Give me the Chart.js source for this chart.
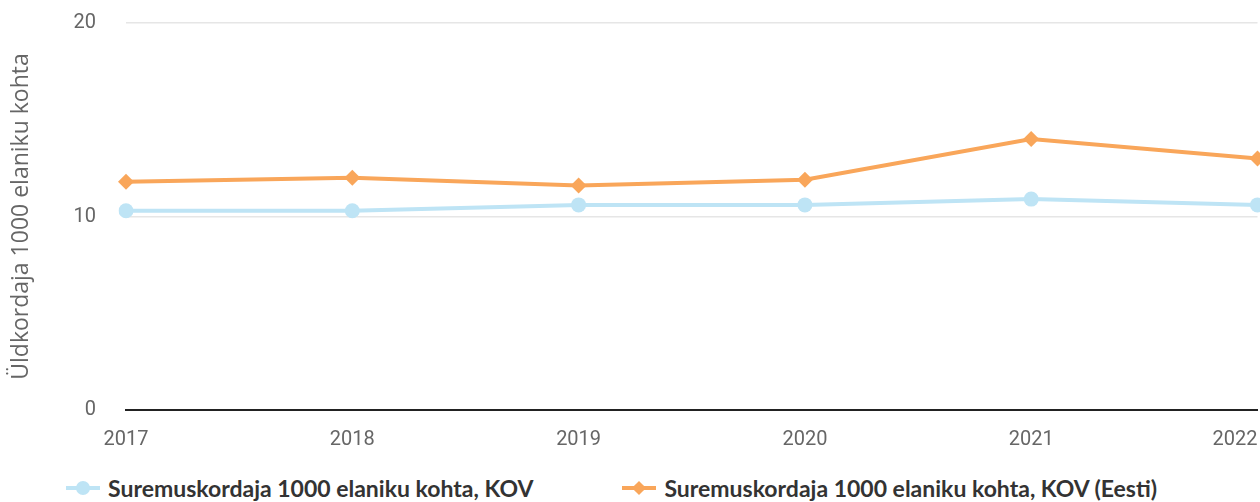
<!DOCTYPE html>
<html>
<head>
<meta charset="utf-8">
<script src="https://cdn.jsdelivr.net/npm/chart.js@4/dist/chart.umd.min.js"></script>
<style>
  html, body { margin: 0; padding: 0; background: #fff; }
  #wrap { position: relative; width: 1260px; height: 502px; overflow: hidden; }
  #box { position: absolute; left: 0; top: 0; width: 1298px; height: 460px; }
  #legend { position: absolute; left: 66px; top: 475px; display: flex; gap: 89px;
            font-family: Lato, sans-serif; font-weight: 700; font-size: 23px; color: #333; line-height: 26px; }
  .item { display: flex; align-items: center; white-space: nowrap; }
  .mark { position: relative; width: 34px; height: 26px; margin-right: 8px; }
  .mark .ln { position: absolute; left: 0; right: 0; top: 11px; height: 4px; }
  .mark .dot { position: absolute; left: 10px; top: 6px; width: 14px; height: 14px; border-radius: 50%; }
  .mark .dia { position: absolute; left: 12px; top: 8px; width: 10px; height: 10px; transform: rotate(45deg); }
</style>
</head>
<body>
<div id="wrap">
  <div id="box"><canvas id="chart" width="1298" height="460"></canvas></div>
  <div id="legend"></div>
</div>
<script>
var years = ["2017", "2018", "2019", "2020", "2021", "2022"];
var kovValues = [10.3, 10.3, 10.6, 10.6, 10.9, 10.6];
var eestiValues = [11.8, 12.0, 11.6, 11.9, 14.0, 13.0];
var seriesNames = ["Suremuskordaja 1000 elaniku kohta, KOV", "Suremuskordaja 1000 elaniku kohta, KOV (Eesti)"];
var yTitle = "Üldkordaja 1000 elaniku kohta";

var blue = "#bee4f5";
var orange = "#f9a65a";
var tickFont = { family: "Roboto", size: 20 };

// keep the last year label inside the plot edge
var lastLabelInside = {
    id: "lastLabelInside",
    beforeDraw: function (chart) {
        var items = chart.scales.x.getLabelItems();
        items[items.length - 1].options.textAlign = "right";
    }
};

var ctx = document.getElementById("chart").getContext("2d");
var myChart = new Chart(ctx, {
    type: "line",
    data: {
        labels: years,
        datasets: [{
            label: seriesNames[0],
            data: kovValues,
            borderColor: blue,
            backgroundColor: blue,
            borderWidth: 4,
            pointStyle: "circle",
            pointRadius: 7.5,
            pointBorderWidth: 0,
            tension: 0
        }, {
            label: seriesNames[1],
            data: eestiValues,
            borderColor: orange,
            backgroundColor: orange,
            borderWidth: 4,
            pointStyle: "rectRot",
            pointRadius: 8,
            pointBorderWidth: 0,
            tension: 0
        }]
    },
    options: {
        responsive: false,
        animation: false,
        layout: { padding: 0 },
        plugins: {
            legend: { display: false },
            tooltip: { enabled: false }
        },
        scales: {
            x: {
                offset: false,
                grid: { display: false, drawTicks: false },
                border: { display: true, color: "#222", width: 2 },
                ticks: { color: "#666", padding: 18, font: tickFont, maxRotation: 0 },
                afterFit: function (scale) { scale.height = 50; }
            },
            y: {
                min: 0,
                max: 20,
                ticks: { stepSize: 10, color: "#666", padding: 30, font: tickFont },
                grid: { color: "#e6e6e6", lineWidth: 1.5, drawTicks: false },
                border: { display: false },
                title: {
                    display: true,
                    text: yTitle,
                    color: "#666",
                    font: { family: "Open Sans", size: 23 },
                    padding: { top: 8, bottom: 0 }
                },
                afterFit: function (scale) {
                    scale.width = 126;
                    scale.paddingTop = 23;
                    scale.paddingBottom = 10;
                }
            }
        }
    },
    plugins: [lastLabelInside]
});

// legend below the plot
var legend = document.getElementById("legend");
var markers = ["dot", "dia"];
myChart.data.datasets.forEach(function (ds, i) {
    var item = document.createElement("div");
    item.className = "item";
    item.innerHTML = '<span class="mark"><span class="ln" style="background:' + ds.borderColor + '"></span>' +
        '<span class="' + markers[i] + '" style="background:' + ds.borderColor + '"></span></span>' +
        '<span class="txt"></span>';
    item.querySelector(".txt").textContent = ds.label;
    legend.appendChild(item);
});
</script>
</body>
</html>
